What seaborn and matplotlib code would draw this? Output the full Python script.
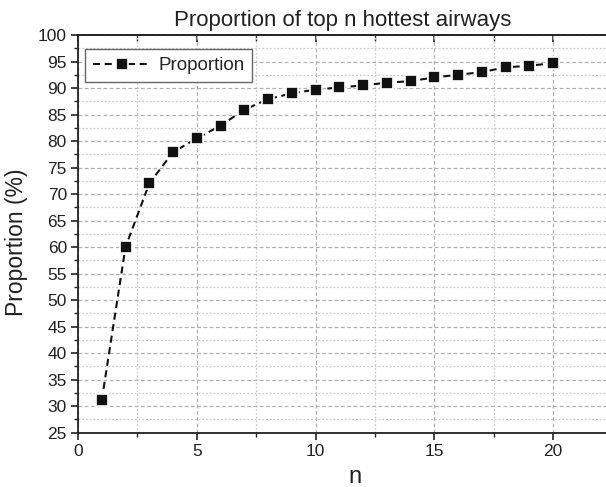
import matplotlib
matplotlib.use("Agg")
import matplotlib.pyplot as plt
import seaborn as sns
import pandas as pd
from matplotlib.ticker import MultipleLocator, NullFormatter

n_values = [1, 2, 3, 4, 5, 6, 7, 8, 9, 10, 11, 12, 13, 14, 15, 16, 17, 18, 19, 20]
proportion = [31.1, 60.0, 72.0, 77.9, 80.5, 82.9, 85.9, 87.9, 89.0, 89.7,
              90.1, 90.5, 91.0, 91.3, 92.0, 92.5, 93.0, 93.9, 94.2, 94.7]
title = "Proportion of top n hottest airways"
x_label = "n"
y_label = "Proportion (%)"
series_name = "Proportion"

sns.set_style("ticks")
plt.rcParams['font.family'] = ['Liberation Sans', 'DejaVu Sans']

df = pd.DataFrame({"n": n_values, "p": proportion})

W, H = 606, 487
fig = plt.figure(figsize=(W / 100, H / 100), dpi=100)
ax = fig.add_axes([78 / W, 1 - 432.7 / H, (W - 78) / W, (432.7 - 35) / H])

sns.lineplot(data=df, x="n", y="p", ax=ax, color="#111111", linestyle=(0, (3.4, 2.2)),
             linewidth=1.5, marker="s", markersize=8.2, markeredgecolor="white",
             markeredgewidth=1.2, markerfacecolor="#111111", label=series_name)

ax.set_xlim(0, 22.23)
ax.set_ylim(25, 100)
ax.xaxis.set_major_locator(MultipleLocator(5))
ax.xaxis.set_minor_locator(MultipleLocator(2.5))
ax.yaxis.set_major_locator(MultipleLocator(5))
ax.yaxis.set_minor_locator(MultipleLocator(2.5))

ax.grid(which="major", color="#b0b0b0", linestyle=(0, (3, 2)), linewidth=0.9)
ax.grid(which="minor", color="#cccccc", linestyle=(0, (1.5, 1.5)), linewidth=0.9)
ax.set_axisbelow(True)

for s in ["left", "bottom", "top"]:
    ax.spines[s].set_linewidth(1.3)
    ax.spines[s].set_color("#222222")
ax.spines["right"].set_visible(False)

ax.tick_params(which="major", direction="out", length=5, width=1.2, color="#222222",
               labelsize=12.5, labelcolor="#222222", pad=3)
ax.tick_params(which="minor", direction="out", length=3, width=1.0, color="#222222")

# inward ticks along the top spine
sec = ax.secondary_xaxis("top")
sec.xaxis.set_major_locator(MultipleLocator(5))
sec.xaxis.set_minor_locator(MultipleLocator(2.5))
sec.xaxis.set_major_formatter(NullFormatter())
sec.tick_params(which="major", direction="in", length=5, width=1.2, color="#222222")
sec.tick_params(which="minor", direction="in", length=4, width=1.0, color="#222222")
sec.spines["top"].set_linewidth(1.3)
sec.spines["top"].set_color("#222222")

ax.set_title("")
ax.set_xlabel("")
ax.set_ylabel("")
fig.text(343 / W, 1 - 26 / H, title, fontsize=16, color="#222222",
         ha="center", va="baseline")
fig.text(355 / W, 1 - 483 / H, x_label, fontsize=17, color="#222222",
         ha="center", va="baseline")
fig.text(17 / W, 1 - 242 / H, y_label, fontsize=16.5, color="#222222",
         ha="center", va="center", rotation=90)

leg = ax.legend(loc="upper left",
                bbox_to_anchor=(85 / W, 1 - 49.3 / H), bbox_transform=fig.transFigure,
                fontsize=13.6, frameon=True, fancybox=False, edgecolor="#666666",
                framealpha=1, borderpad=0.42, borderaxespad=0, handlelength=3.1,
                handletextpad=0.35)
leg.get_frame().set_linewidth(1.0)

fig.savefig("out.png", dpi=100)
